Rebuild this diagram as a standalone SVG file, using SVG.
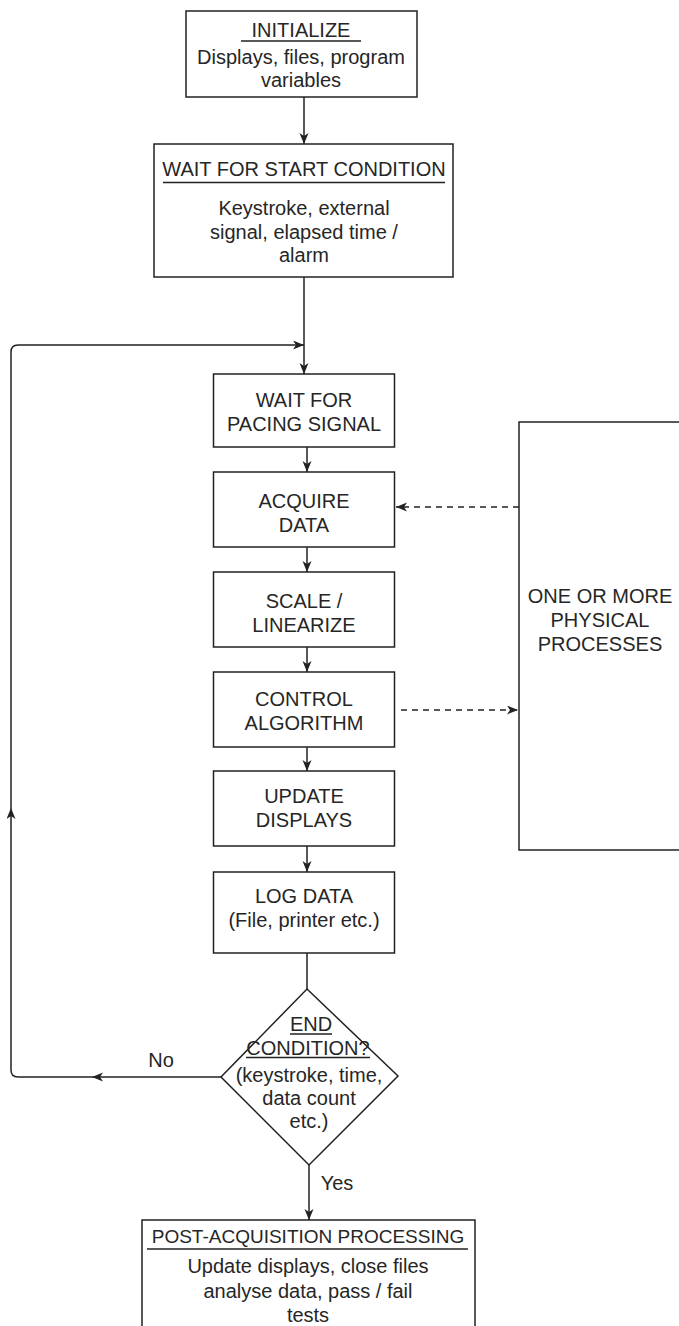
<svg xmlns="http://www.w3.org/2000/svg" width="679" height="1326" viewBox="0 0 679 1326">
<style>
  .box { fill: #ffffff; stroke: #222222; stroke-width: 1.5; }
  .t { font-family: "Liberation Sans", Arial, sans-serif; font-size: 20px; fill: #262626; text-anchor: middle; }
  .s { font-size: 19px; }
  .ul { stroke: #222222; stroke-width: 1.3; }
  .c { fill: none; stroke: #222222; stroke-width: 1.5; }
  .d { fill: none; stroke: #222222; stroke-width: 1.5; stroke-dasharray: 6 5; }
</style>
<defs>
  <marker id="ah" markerUnits="userSpaceOnUse" markerWidth="12" markerHeight="10" refX="11" refY="4.5" orient="auto">
    <path d="M0,0 L11,4.5 L0,9 L3,4.5 Z" fill="#222222"/>
  </marker>
</defs>
<rect x="0" y="0" width="679" height="1326" fill="#ffffff"/>

<g id="connectors">
  <path class="c" d="M304,97 L304,144" marker-end="url(#ah)"/>
  <path class="c" d="M304,277 L304,374" marker-end="url(#ah)"/>
  <path class="c" d="M307,447 L307,472" marker-end="url(#ah)"/>
  <path class="c" d="M307,547 L307,572" marker-end="url(#ah)"/>
  <path class="c" d="M307,647 L307,672" marker-end="url(#ah)"/>
  <path class="c" d="M307,747 L307,771" marker-end="url(#ah)"/>
  <path class="c" d="M307,846 L307,872" marker-end="url(#ah)"/>
  <path class="c" d="M307,953 L307,989"/>
  <path class="c" d="M309,1165 L309,1220" marker-end="url(#ah)"/>
  <path class="c" d="M221,1077 L92,1077" marker-end="url(#ah)"/>
  <path class="c" d="M92,1077 L18,1077 Q11,1077 11,1070 L11,808" marker-end="url(#ah)"/>
  <path class="c" d="M11,808 L11,352 Q11,345 18,345 L304,345" marker-end="url(#ah)"/>
  <path class="d" d="M519,507 L396,507" marker-end="url(#ah)"/>
  <path class="d" d="M401,710 L518,710" marker-end="url(#ah)"/>
  <text class="t" x="161" y="1067">No</text>
  <text class="t" x="337" y="1190">Yes</text>
</g>

<g id="initialize">
  <rect class="box" x="186" y="11" width="231" height="86"/>
  <text class="t" x="301" y="37">INITIALIZE</text>
  <line class="ul" x1="241" y1="41" x2="361" y2="41"/>
  <text class="t" x="301" y="64">Displays, files, program</text>
  <text class="t" x="301" y="87">variables</text>
</g>

<g id="wait-start">
  <rect class="box" x="154" y="144" width="299" height="133"/>
  <text class="t" x="304" y="176">WAIT FOR START CONDITION</text>
  <line class="ul" x1="163" y1="182.5" x2="445" y2="182.5"/>
  <text class="t" x="304" y="215">Keystroke, external</text>
  <text class="t" x="304" y="239">signal, elapsed time /</text>
  <text class="t" x="304" y="262">alarm</text>
</g>

<g id="wait-pacing">
  <rect class="box" x="213.5" y="374" width="181" height="73"/>
  <text class="t" x="304" y="407">WAIT FOR</text>
  <text class="t" x="304" y="431">PACING SIGNAL</text>
</g>

<g id="acquire">
  <rect class="box" x="213.5" y="472" width="181" height="75"/>
  <text class="t" x="304" y="508">ACQUIRE</text>
  <text class="t" x="304" y="532">DATA</text>
</g>

<g id="scale">
  <rect class="box" x="213.5" y="572" width="181" height="75"/>
  <text class="t" x="304" y="608">SCALE /</text>
  <text class="t" x="304" y="632">LINEARIZE</text>
</g>

<g id="control">
  <rect class="box" x="213.5" y="672" width="181" height="75"/>
  <text class="t" x="304" y="706">CONTROL</text>
  <text class="t" x="304" y="730">ALGORITHM</text>
</g>

<g id="update">
  <rect class="box" x="213.5" y="771" width="181" height="75"/>
  <text class="t" x="304" y="803">UPDATE</text>
  <text class="t" x="304" y="827">DISPLAYS</text>
</g>

<g id="log">
  <rect class="box" x="213.5" y="872" width="181" height="81"/>
  <text class="t" x="304" y="903">LOG DATA</text>
  <text class="t" x="304" y="927">(File, printer etc.)</text>
</g>

<g id="end-condition">
  <polygon class="box" points="307,989 398,1076 309,1165 221,1077"/>
  <text class="t" x="311" y="1031">END</text>
  <line class="ul" x1="290" y1="1034" x2="332" y2="1034"/>
  <text class="t" x="308" y="1055">CONDITION?</text>
  <line class="ul" x1="246" y1="1057.5" x2="370" y2="1057.5"/>
  <text class="t" x="309" y="1082">(keystroke, time,</text>
  <text class="t" x="309" y="1105">data count</text>
  <text class="t" x="309" y="1128">etc.)</text>
</g>

<g id="physical">
  <rect class="box" x="519" y="422" width="162" height="428"/>
  <text class="t" x="600" y="603">ONE OR MORE</text>
  <text class="t" x="600" y="627">PHYSICAL</text>
  <text class="t" x="600" y="651">PROCESSES</text>
</g>

<g id="post">
  <rect class="box" x="142" y="1220" width="333" height="130"/>
  <text class="t s" x="308" y="1243">POST-ACQUISITION PROCESSING</text>
  <line class="ul" x1="147" y1="1249" x2="468" y2="1249"/>
  <text class="t" x="308" y="1273">Update displays, close files</text>
  <text class="t" x="308" y="1298">analyse data, pass / fail</text>
  <text class="t" x="308" y="1322">tests</text>
</g>
</svg>
